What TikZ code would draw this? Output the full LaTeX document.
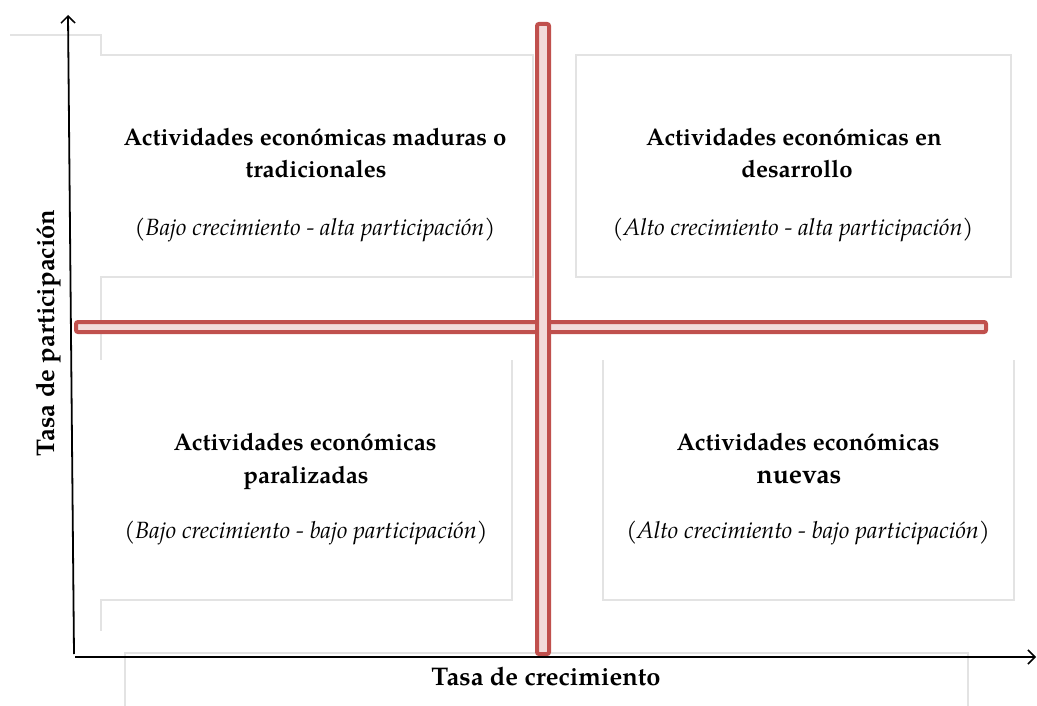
\documentclass[tikz,border=0pt]{standalone}
\usepackage{fontspec}
\setmainfont{TeX Gyre Pagella}
\usetikzlibrary{arrows.meta}
\definecolor{barred}{HTML}{C0504D}
\definecolor{barfill}{HTML}{F2DCDB}
\definecolor{frame}{HTML}{E3E3E3}
\tikzset{
  bar/.style={draw=barred, fill=barfill, line width=4pt, rounded corners=2pt},
  faint/.style={draw=frame, line width=1.2pt},
  title/.style={font=\fontsize{24}{28}\selectfont\bfseries, anchor=base, inner sep=0pt},
  bigtitle/.style={font=\fontsize{26.5}{30}\selectfont\bfseries, anchor=base, inner sep=0pt},
  sub/.style={font=\fontsize{23.5}{27}\selectfont\itshape, anchor=base, inner sep=0pt},
  axislabel/.style={font=\fontsize{25.5}{29}\selectfont\bfseries, anchor=base, inner sep=0pt},
  axis/.style={line width=1.8pt, -{Straight Barb[length=7pt,width=14pt,line width=1.5pt]}}
}
\begin{document}
\begin{tikzpicture}[x=1pt,y=-1pt]
\useasboundingbox[fill=white] (0,0) rectangle (1037,706);
% faint frames
\draw[faint] (10,35) -- (101,35) -- (101,55) -- (533,55) -- (533,277) -- (101,277) -- (101,360);
\draw[faint] (576,55) rectangle (1011,277);
\draw[faint] (512,360) -- (512,600) -- (101,600) -- (101,631);
\draw[faint] (603,360) -- (603,600) -- (1014,600) -- (1014,360);
\draw[faint] (125,706) -- (125,653) -- (968,653) -- (968,706);
% bars
\draw[bar] (76,322) rectangle (986,332);
\draw[bar] (537,24) rectangle (549,654);
% axes
\coordinate (ybase) at (74,654);
\coordinate (ytip) at (68,15);
\coordinate (xbase) at (75,657);
\coordinate (xtip) at (1036,657);
\draw[axis] (ybase) -- (ytip);
\draw[axis] (xbase) -- (xtip);
% texts
\node[title] (tl1) at (315,146) {Actividades económicas maduras o};
\node[title] (tl2) at (316,178) {tradicionales};
\node[sub] (tl3) at (315,236) {(Bajo crecimiento - alta participación)};
\node[title] (tr1) at (794,146) {Actividades económicas en};
\node[title] (tr2) at (797,178) {desarrollo};
\node[sub] (tr3) at (793,236) {(Alto crecimiento - alta participación)};
\node[title] (bl1) at (305,450) {Actividades económicas};
\node[title] (bl2) at (306,483) {paralizadas};
\node[sub] (bl3) at (306,538) {(Bajo crecimiento - bajo participación)};
\node[title] (br1) at (808,450) {Actividades económicas};
\node[bigtitle] (br2) at (799,483) {nuevas};
\node[sub] (br3) at (808,538) {(Alto crecimiento - bajo participación)};
\node[axislabel] (xl) at (546,685) {Tasa de crecimiento};
\node[axislabel, rotate=90] (yl) at (54,333) {Tasa de participación};
\end{tikzpicture}
\end{document}
